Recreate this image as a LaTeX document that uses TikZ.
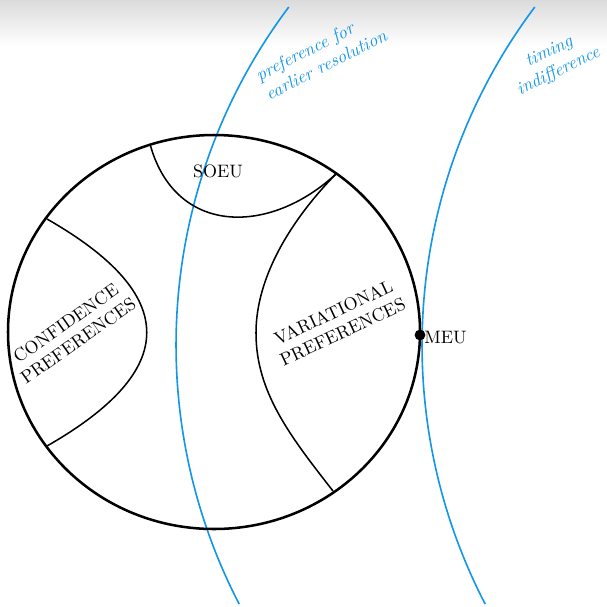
\documentclass[tikz,border=0pt]{standalone}
\usetikzlibrary{calc}
\definecolor{curveblue}{RGB}{20,150,230}
\begin{document}
\begin{tikzpicture}[x=0.5556pt,y=-0.5556pt,
  bigcircle/.style={line width=1.4pt},
  region/.style={line width=0.85pt},
  bluecurve/.style={line width=0.9pt, draw=curveblue},
  bluelabel/.style={text=curveblue, font=\itshape, align=left, inner sep=0pt},
  regionlabel/.style={align=center, inner sep=0pt}]
\useasboundingbox (0,0) rectangle (607,606);
\shade[top color=black!14, bottom color=white, draw=none] (0,0) rectangle (607,46);
% points on the big circle
\coordinate (A) at (150,144);
\coordinate (B) at (337,173);
\coordinate (C1) at (47,219);
\coordinate (C2) at (47,446);
\coordinate (D) at (333,491);
\coordinate (L) at (256,333);
% blue curves
\draw[bluecurve] (288.8,7) arc[start angle=216.9, end angle=152.6, radius=563];
\draw[bluecurve] (534.8,7) arc[start angle=216.9, end angle=152.6, radius=563];
% big circle
\draw[bigcircle] (214,332) ellipse[x radius=206, y radius=197];
% regions
\draw[region] (A) .. controls (175,236) and (270,236) .. (B);
\draw[region] (B) .. controls (303,207) and (256,268) .. (L)
                  .. controls (256,392) and (290,436) .. (D);
\draw[region] (C1) .. controls (180,295) and (180,370) .. (C2);
% MEU point
\node[circle, fill=black, inner sep=0pt, minimum size=6pt] (meu) at (420,335) {};
\node[anchor=west, inner sep=0pt] (meulabel) at (424,338) {MEU};
% labels
\node[regionlabel] (soeu) at (218,171) {SOEU};
\node[regionlabel, rotate=35] (conf) at (72,332) {CONFIDENCE\\PREFERENCES};
\node[regionlabel, rotate=25] (var) at (338,322) {VARIATIONAL\\PREFERENCES};
\node[bluelabel, rotate=27] (pref) at (321,55) {preference for\\earlier resolution};
\node[bluelabel, align=center, rotate=26] (timing) at (554,62) {timing\\indifference};
\end{tikzpicture}
\end{document}
